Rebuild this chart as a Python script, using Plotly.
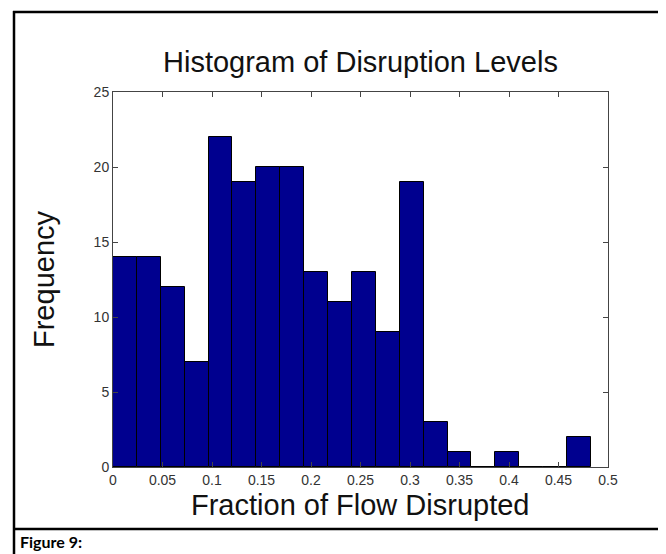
import plotly.graph_objects as go

# Data
counts = [14, 14, 12, 7, 22, 19, 20, 20, 13, 11, 13, 9, 19, 3, 1, 0, 1, 0, 0, 2]
bin_start = 0.0
bin_width = 0.02414
x_tick_vals = [0, 0.05, 0.1, 0.15, 0.2, 0.25, 0.3, 0.35, 0.4, 0.45, 0.5]
x_tick_text = ["0", "0.05", "0.1", "0.15", "0.2", "0.25", "0.3", "0.35", "0.4", "0.45", "0.5"]
y_tick_vals = [0, 5, 10, 15, 20, 25]

centers = [bin_start + (i + 0.5) * bin_width for i in range(len(counts))]

W, H = 666, 554
L, R, T, B = 105, 600, 84, 459  # plot area in pixels

def px(x):
    return (x - L) / (R - L)

def py(y):
    return (B - y) / (B - T)

fig = go.Figure()
fig.add_trace(go.Bar(
    x=centers, y=counts, width=[bin_width] * len(counts),
    marker=dict(color="#00008F", line=dict(color="black", width=1)),
    hoverinfo="x+y",
))

font_main = "Liberation Sans, Arial, sans-serif"
title_size = 29
axis_title_size = 29

fig.update_layout(
    width=W, height=H,
    margin=dict(l=L, r=W - R, t=T, b=H - B),
    paper_bgcolor="white", plot_bgcolor="white",
    showlegend=False,
    bargap=0,
    xaxis=dict(range=[0, 0.5], tickvals=x_tick_vals, ticktext=x_tick_text,
               ticks="inside", ticklen=5, tickcolor="#444", mirror="allticks",
               showline=True, linecolor="#444", linewidth=1, showgrid=False, zeroline=False,
               tickfont=dict(family=font_main, size=14, color="#333")),
    yaxis=dict(range=[0, 25], tickvals=y_tick_vals,
               ticks="inside", ticklen=5, tickcolor="#444", mirror="allticks",
               showline=True, linecolor="#444", linewidth=1, showgrid=False, zeroline=False,
               tickfont=dict(family=font_main, size=14, color="#333")),
    annotations=[
        dict(text="Histogram of Disruption Levels", xref="paper", yref="paper",
             x=px(352), y=py(64.5 - 0.346 * title_size), showarrow=False,
             xanchor="center", yanchor="middle",
             font=dict(family=font_main, size=title_size, color="#111")),
        dict(text="Fraction of Flow Disrupted", xref="paper", yref="paper",
             x=px(352), y=py(497), showarrow=False, xanchor="center", yanchor="middle",
             font=dict(family=font_main, size=axis_title_size, color="#111")),
        dict(text="Frequency", xref="paper", yref="paper", textangle=-90,
             x=px(36), y=py(271), showarrow=False, xanchor="center", yanchor="middle",
             font=dict(family=font_main, size=axis_title_size, color="#111")),
        dict(text="<b>Figure 9:</b>", xref="paper", yref="paper",
             x=px(10), y=py(533), showarrow=False, xanchor="left", yanchor="middle",
             font=dict(family="Lato, Open Sans, sans-serif", size=16, color="black")),
    ],
    shapes=[
        dict(type="line", xref="paper", yref="paper", x0=px(6), x1=px(6), y0=py(3), y1=py(556),
             line=dict(color="black", width=2.5)),
        dict(type="line", xref="paper", yref="paper", x0=px(664), x1=px(664), y0=py(3), y1=py(556),
             line=dict(color="black", width=2.5)),
        dict(type="line", xref="paper", yref="paper", x0=px(5), x1=px(666), y0=py(4), y1=py(4),
             line=dict(color="black", width=2.5)),
        dict(type="line", xref="paper", yref="paper", x0=px(5), x1=px(666), y0=py(521), y1=py(521),
             line=dict(color="black", width=2.5)),
    ],
)

fig.write_html("out.html")
